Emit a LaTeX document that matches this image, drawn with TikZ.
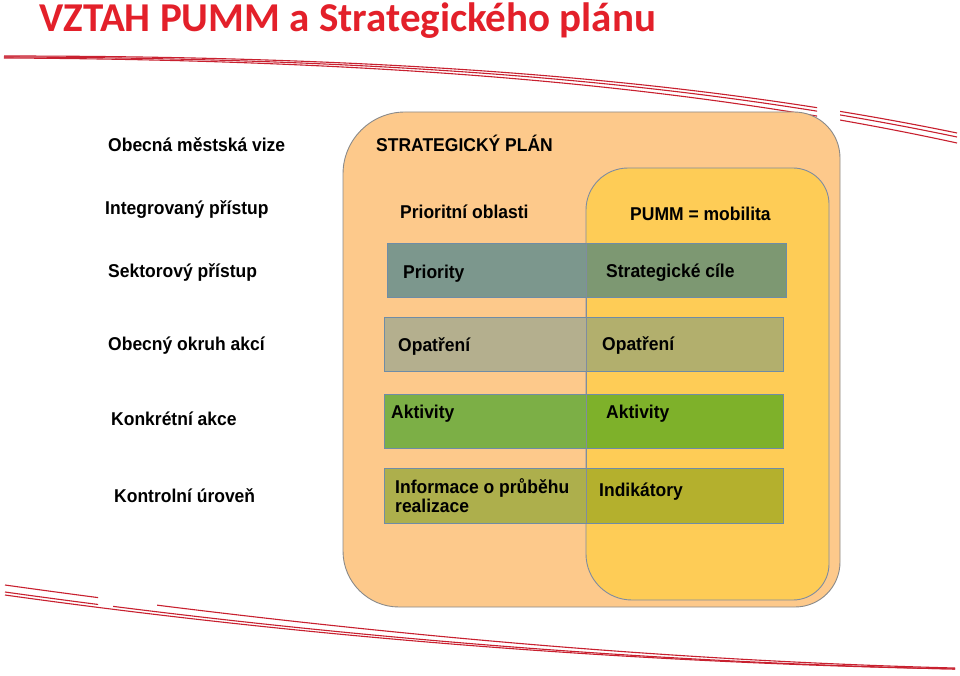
\documentclass[tikz,border=0pt]{standalone}
\usepackage{graphicx}
\usepackage{fontspec}
\setmainfont{Liberation Sans}
\newfontfamily\titlefont{Carlito}
\definecolor{swoosh}{HTML}{C8202F}
\definecolor{titlered}{HTML}{E3202A}
\definecolor{outerfill}{HTML}{FDC98B}
\definecolor{outerline}{HTML}{8A8A8A}
\definecolor{innerfill}{HTML}{FECC56}
\definecolor{innerline}{HTML}{7F8CA0}
\definecolor{barline}{HTML}{6F8CA6}
\definecolor{barAl}{HTML}{7C978D}
\definecolor{barAr}{HTML}{7D9872}
\definecolor{barBl}{HTML}{B4AF8E}
\definecolor{barBr}{HTML}{B2AF6D}
\definecolor{barCl}{HTML}{7CAF46}
\definecolor{barCr}{HTML}{7EB12A}
\definecolor{barDl}{HTML}{ADAF4C}
\definecolor{barDr}{HTML}{B4B02D}
\newcommand\vs[1]{\scalebox{1}[1.06]{#1}}
\newcommand\mytopswoosh{%
  \draw[swooshline] (4,56) .. controls (400,56) and (700,80) .. (957,133);
  \draw[swooshline] (4,57) .. controls (400,58) and (700,83) .. (957,137);
  \draw[swooshline] (4,58) .. controls (400,60) and (700,87) .. (957,143);}
\newcommand\mybotU{\draw[swooshline] (5,585) .. controls (320,629) and (640,660) .. (955,668);}
\newcommand\mybotM{\draw[swooshline] (5,592) .. controls (320,636) and (640,662) .. (955,669);}
\newcommand\mybotL{\draw[swooshline] (5,595) .. controls (320,639) and (640,663) .. (955,669);}
\begin{document}
\begin{tikzpicture}[x=1pt,y=-1pt,
  every node/.style={inner sep=0pt},
  swooshline/.style={draw=swoosh,line width=1.1pt},
  lbl/.style={anchor=base west,font=\fontsize{17.5}{19}\selectfont\bfseries},
  barframe/.style={draw=barline,line width=0.9pt},
  outerbox/.style={fill=outerfill,draw=outerline,line width=0.9pt},
  innerbox/.style={fill=innerfill,draw=innerline,line width=0.9pt}]
\useasboundingbox (0,0) rectangle (960,676);
\fill[white] (0,0) rectangle (960,676);
% swooshes
\begin{scope}\clip (0,0) rectangle (817,676); \mytopswoosh \end{scope}
\begin{scope}\clip (840,0) rectangle (960,676); \mytopswoosh \end{scope}
\begin{scope}\clip (0,0) rectangle (98,676); \mybotU \mybotM \end{scope}
\begin{scope}\clip (157,0) rectangle (960,676); \mybotU \end{scope}
\begin{scope}\clip (113,0) rectangle (960,676); \mybotM \end{scope}
\mybotL
% title
\node[anchor=base west,font=\titlefont\bfseries\fontsize{41}{41}\selectfont,text=titlered] (title) at (39,32) {VZTAH PUMM a Strategického plánu};
% outer box
\draw[outerbox] (343,360) [rounded corners=62pt] -- (343,112) -- (600,112)
  [rounded corners=46pt] -- (840,112) -- (840,360)
  [rounded corners=45pt] -- (840,607) -- (600,607)
  [rounded corners=56pt] -- (343,607) -- cycle;
% inner box
\draw[innerbox] (586,380) [rounded corners=42pt] -- (586,168) -- (700,168)
  [rounded corners=36pt] -- (829,168) -- (829,380)
  [rounded corners=36pt] -- (829,600) -- (700,600)
  [rounded corners=46pt] -- (586,600) -- cycle;
% bars
\fill[barAl] (387,243) rectangle (586,297); \fill[barAr] (586,243) rectangle (786,297);
\draw[barframe] (387,243) rectangle (786,297);
\fill[barBl] (384,317) rectangle (586,371); \fill[barBr] (586,317) rectangle (783,371);
\draw[barframe] (384,317) rectangle (783,371);
\fill[barCl] (384,394) rectangle (586,448); \fill[barCr] (586,394) rectangle (783,448);
\draw[barframe] (384,394) rectangle (783,448);
\fill[barDl] (384,468) rectangle (586,523); \fill[barDr] (586,468) rectangle (783,523);
\draw[barframe] (384,468) rectangle (783,523);
% inner box outline over bars
\draw[innerline,line width=0.9pt] (586,243) -- (586,523);
% left labels
\node[lbl] (l1) at (108,151.5) {\vs{Obecná městská vize}};
\node[lbl] (l2) at (105,214.5) {\vs{Integrovaný přístup}};
\node[lbl] (l3) at (108,277) {\vs{Sektorový přístup}};
\node[lbl] (l4) at (108,350.5) {\vs{Obecný okruh akcí}};
\node[lbl] (l5) at (111,425) {\vs{Konkrétní akce}};
\node[lbl] (l6) at (114,502) {\vs{Kontrolní úroveň}};
% box labels
\node[lbl] (sp) at (376,151.5) {\vs{STRATEGICKÝ PLÁN}};
\node[lbl] (po) at (400,219) {\vs{Prioritní oblasti}};
\node[lbl] (pm) at (630,221) {\vs{PUMM = mobilita}};
\node[lbl] (pr) at (403,278) {\vs{Priority}};
\node[lbl] (sc) at (606,277) {\vs{Strategické cíle}};
\node[lbl] (o1) at (398,351) {\vs{Opatření}};
\node[lbl] (o2) at (602,350) {\vs{Opatření}};
\node[lbl] (a1) at (391,418) {\vs{Aktivity}};
\node[lbl] (a2) at (606,418) {\vs{Aktivity}};
\node[lbl,align=left] (inf) at (395,512) {\vs{Informace o průběhu}\\\vs{realizace}};
\node[lbl] (ind) at (599,496) {\vs{Indikátory}};
\end{tikzpicture}
\end{document}
